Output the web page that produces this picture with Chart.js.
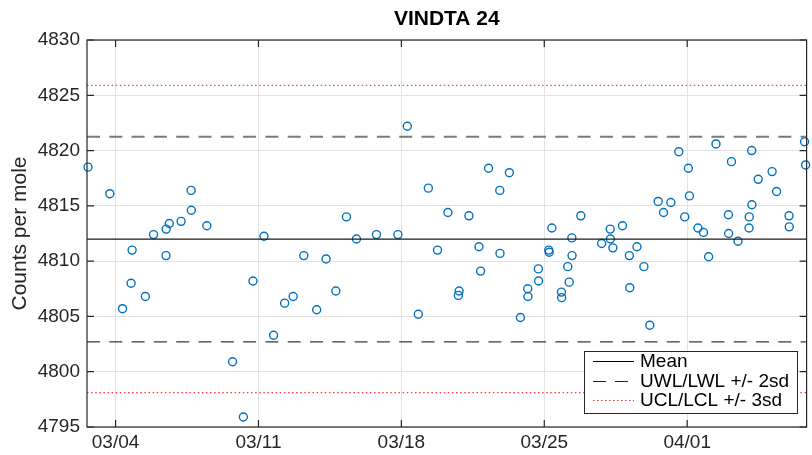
<!DOCTYPE html>
<html><head><meta charset="utf-8">
<script src="https://cdn.jsdelivr.net/npm/chart.js@4.4.0/dist/chart.umd.min.js"></script>
<style>html,body{margin:0;padding:0;background:#fff}#wrap{width:812px;height:455px}</style>
</head><body><div id="wrap"><canvas id="c" width="812" height="455"></canvas></div>
<script>
// x = day of March (04/01 = 32)
const dayOfMarch = [2.65,3.72,4.34,4.76,4.81,5.46,5.86,6.47,6.48,6.63,7.21,7.70,7.71,8.47,9.73,10.26,10.73,11.27,11.74,12.28,12.70,13.22,13.85,14.31,14.79,15.31,15.80,16.78,17.83,18.29,18.83,19.32,19.77,20.28,20.79,20.83,21.31,21.80,21.88,22.27,22.82,22.83,23.29,23.83,24.19,24.20,24.71,24.72,25.22,25.24,25.37,25.84,25.85,26.15,26.22,26.35,26.36,26.79,27.81,28.23,28.24,28.36,28.83,29.17,29.19,29.54,29.88,30.17,30.58,30.84,31.20,31.59,31.88,32.06,32.11,32.53,32.80,33.05,33.41,34.02,34.03,34.17,34.49,35.03,35.04,35.16,35.17,35.48,36.16,36.38,36.99,37.00,37.75,37.80];
const countsPerMole = [4818.5,4816.1,4805.7,4808.0,4811.0,4806.8,4812.4,4810.5,4812.9,4813.4,4813.6,4816.4,4814.6,4813.2,4800.9,4795.9,4808.2,4812.25,4803.3,4806.2,4806.8,4810.5,4805.6,4810.2,4807.3,4814.0,4812.0,4812.4,4812.4,4822.2,4805.2,4816.6,4811.0,4814.4,4806.9,4807.3,4814.1,4811.3,4809.1,4818.4,4816.4,4810.7,4818.0,4804.9,4807.5,4806.8,4809.3,4808.2,4811.0,4810.8,4813.0,4807.2,4806.7,4809.5,4808.1,4812.1,4810.5,4814.1,4811.6,4812.9,4812.0,4811.2,4813.2,4810.5,4807.6,4811.3,4809.5,4804.2,4815.4,4814.4,4815.3,4819.9,4814.0,4818.4,4815.9,4813.0,4812.6,4810.4,4820.6,4814.2,4812.5,4819.0,4811.8,4813.0,4814.0,4820.0,4815.1,4817.4,4818.1,4816.3,4814.1,4813.1,4820.8,4818.7];
const xTickValues = [4, 11, 18, 25, 32];
const xTickLabels = ['03/04', '03/11', '03/18', '03/25', '04/01'];
const yTickValues = [4795, 4800, 4805, 4810, 4815, 4820, 4825, 4830];
const meanValue = 4812.0;
const warnLimits = [4821.25, 4802.7];
const controlLimits = [4825.9, 4798.1];
const xRange = [2.60, 37.85];
const legendLabels = ['Mean', 'UWL/LWL +/- 2sd', 'UCL/LCL +/- 3sd'];

const FONT = "'Liberation Sans', Arial, Helvetica, sans-serif";
const AX = '#262626';

function hline(y) { return [{x: xRange[0], y: y}, {x: xRange[1], y: y}]; }

const boxPlugin = {
  id: 'box',
  afterDatasetsDraw(chart) {
    const {ctx, chartArea: a, scales: {x, y}} = chart;
    ctx.save();
    ctx.strokeStyle = AX; ctx.lineWidth = 1.2;
    ctx.strokeRect(a.left, a.top, a.right - a.left, a.bottom - a.top);
    const tl = 7;
    ctx.beginPath();
    yTickValues.forEach(v => {
      const py = y.getPixelForValue(v);
      ctx.moveTo(a.left, py); ctx.lineTo(a.left + tl, py);
      ctx.moveTo(a.right, py); ctx.lineTo(a.right - tl, py);
    });
    xTickValues.forEach(v => {
      const px = x.getPixelForValue(v);
      ctx.moveTo(px, a.bottom); ctx.lineTo(px, a.bottom - tl);
      ctx.moveTo(px, a.top); ctx.lineTo(px, a.top + tl);
    });
    ctx.stroke();
    // legend
    const L = 584, T = 351, R = 797, B = 413;
    ctx.fillStyle = '#fff';
    ctx.fillRect(L, T, R - L, B - T);
    ctx.strokeStyle = AX; ctx.lineWidth = 1;
    ctx.strokeRect(L + 0.5, T + 0.5, R - L, B - T);
    const rows = [361, 381, 400];
    const styles = [
      {c: '#000', w: 1.2, d: []},
      {c: '#222', w: 1.2, d: [13, 9]},
      {c: '#ff2a2a', w: 1, d: [1.5, 2.5]}
    ];
    ctx.font = '19px ' + FONT;
    ctx.textBaseline = 'middle';
    ctx.textAlign = 'left';
    rows.forEach((ry, i) => {
      const s = styles[i];
      ctx.beginPath();
      ctx.strokeStyle = s.c; ctx.lineWidth = s.w; ctx.setLineDash(s.d);
      ctx.moveTo(593, ry + 0.5); ctx.lineTo(634, ry + 0.5);
      ctx.stroke();
      ctx.setLineDash([]);
      ctx.fillStyle = '#000';
      ctx.fillText(legendLabels[i], 640, ry + 1);
    });
    ctx.restore();
  }
};

new Chart(document.getElementById('c'), {
  type: 'scatter',
  data: {
    datasets: [
      {label: 'data', data: dayOfMarch.map((d, i) => ({x: d, y: countsPerMole[i]})),
       pointStyle: 'circle', pointRadius: 4, pointBorderWidth: 1.4,
       pointBackgroundColor: 'rgba(0,0,0,0)', borderColor: '#0072BD', backgroundColor: 'rgba(0,0,0,0)',
       showLine: false, clip: false, order: 2},
      {label: legendLabels[0], data: hline(meanValue), type: 'line', showLine: true,
       borderColor: '#1a1a1a', borderWidth: 1.2, pointRadius: 0, order: 1},
      {label: legendLabels[1], data: hline(warnLimits[0]), type: 'line', showLine: true,
       borderColor: '#7a7a7a', borderWidth: 2.2, borderDash: [13, 9.3], pointRadius: 0, order: 1},
      {label: legendLabels[1] + ' low', data: hline(warnLimits[1]), type: 'line', showLine: true,
       borderColor: '#3a3a3a', borderWidth: 1.4, borderDash: [13, 9.3], pointRadius: 0, order: 1},
      {label: legendLabels[2], data: hline(controlLimits[0]), type: 'line', showLine: true,
       borderColor: '#ff3b3b', borderWidth: 1.2, borderDash: [1.5, 2.6], pointRadius: 0, order: 1},
      {label: legendLabels[2] + ' low', data: hline(controlLimits[1]), type: 'line', showLine: true,
       borderColor: '#ff3b3b', borderWidth: 1.2, borderDash: [1.5, 2.6], pointRadius: 0, order: 1}
    ]
  },
  options: {
    responsive: false, animation: false, devicePixelRatio: 1,
    layout: {padding: {left: 0, right: 1, top: 0, bottom: 0}},
    plugins: {
      legend: {display: false}, tooltip: {enabled: false},
      title: {display: true, text: 'VINDTA 24', fullSize: false, color: '#000',
        font: {family: FONT, size: 21, weight: 'bold', lineHeight: 1.2}, padding: {top: 7, bottom: 7.8}}
    },
    scales: {
      x: {type: 'linear', min: xRange[0], max: xRange[1],
        afterBuildTicks: s => { s.ticks = xTickValues.map(v => ({value: v})); },
        afterFit: s => { s.height = 28; },
        ticks: {autoSkip: false, maxRotation: 0, padding: 4, color: AX,
          font: {family: FONT, size: 19},
          callback: v => xTickLabels[xTickValues.indexOf(v)]},
        grid: {color: '#e2e2e2', lineWidth: 1, drawTicks: false},
        border: {display: false}
      },
      y: {min: 4795, max: 4830,
        afterBuildTicks: s => { s.ticks = yTickValues.map(v => ({value: v})); },
        afterFit: s => { s.width = 87; },
        ticks: {padding: 7, color: AX, font: {family: FONT, size: 19}, callback: v => String(v)},
        grid: {color: '#e2e2e2', lineWidth: 1, drawTicks: false},
        border: {display: false},
        title: {display: true, text: 'Counts per mole', color: AX,
          font: {family: FONT, size: 21}, padding: {top: 8, bottom: 0}}
      }
    }
  },
  plugins: [boxPlugin]
});
</script></body></html>
